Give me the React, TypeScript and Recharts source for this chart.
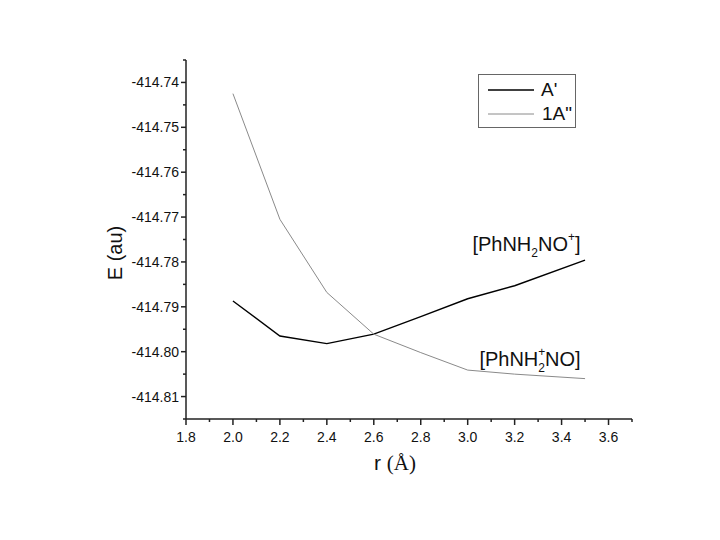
import React from 'react';
import { LineChart, Line, XAxis, YAxis, Legend, ReferenceDot } from 'recharts';

const rValues = [2.0, 2.2, 2.4, 2.6, 2.8, 3.0, 3.2, 3.5];
const aPrime = [-414.7887, -414.7965, -414.7982, -414.7961, -414.7922, -414.7882, -414.7853, -414.7796];
const oneA2 = [-414.7425, -414.7705, -414.7868, -414.7961, -414.8002, -414.8041, -414.8050, -414.8060];

const xMajor = [1.8, 2.0, 2.2, 2.4, 2.6, 2.8, 3.0, 3.2, 3.4, 3.6];
const xMinor = [1.9, 2.1, 2.3, 2.5, 2.7, 2.9, 3.1, 3.3, 3.5, 3.7];
const yMajor = [-414.81, -414.8, -414.79, -414.78, -414.77, -414.76, -414.75, -414.74];
const yMinor = [-414.815, -414.805, -414.795, -414.785, -414.775, -414.765, -414.755, -414.745, -414.735];

const seriesNames = ["A'", '1A"'];
const seriesColors = ['#000000', '#8a8a8a'];

const data = rValues.map((r, i) => ({ r, a: aPrime[i], b: oneA2[i] }));

const FONT = '"Liberation Sans", Arial, sans-serif';
const isMajor = (list: number[], v: number) => list.some((m) => Math.abs(m - v) < 1e-6);

const XTick = ({ x, y, payload }: any) => {
  const major = isMajor(xMajor, payload.value);
  return (
    <g>
      <line x1={x} x2={x} y1={y} y2={y + (major ? 6 : 3)} stroke="#222" strokeWidth={1.5} />
      {major && (
        <text x={x} y={y + 23} textAnchor="middle" fontSize={14} fontFamily={FONT} fill="#111">
          {payload.value.toFixed(1)}
        </text>
      )}
    </g>
  );
};

const YTick = ({ x, y, payload }: any) => {
  const major = isMajor(yMajor, payload.value);
  return (
    <g>
      <line x1={x} x2={x - (major ? 5 : 3)} y1={y} y2={y} stroke="#222" strokeWidth={1.5} />
      {major && (
        <text x={x - 7} y={y + 5} textAnchor="end" fontSize={14} fontFamily={FONT} fill="#111">
          {payload.value.toFixed(2)}
        </text>
      )}
    </g>
  );
};

const LegendBox = () => (
  <div
    style={{
      border: '1px solid #666',
      width: 98,
      height: 54,
      boxSizing: 'border-box',
      background: '#fff',
      fontFamily: FONT,
      fontSize: 19,
      color: '#111',
    }}
  >
    {seriesNames.map((n, i) => (
      <div key={n} style={{ display: 'flex', alignItems: 'center', height: 24, marginTop: i === 0 ? 3 : 0 }}>
        <svg width={56} height={10} style={{ marginLeft: 9 }}>
          <line x1={0} x2={46} y1={5} y2={5} stroke={seriesColors[i]} strokeWidth={i === 0 ? 1.3 : 1} />
        </svg>
        <span style={{ marginLeft: i === 0 ? -3 : -2 }}>{n}</span>
      </div>
    ))}
  </div>
);

const Species1 = ({ cx, cy }: any) => (
  <text x={cx} y={cy} fontSize={20} fontFamily={FONT} fill="#111">
    <tspan>[PhNH</tspan>
    <tspan dy={6} fontSize={12}>2</tspan>
    <tspan dy={-6}>NO</tspan>
    <tspan dy={-10} fontSize={12}>+</tspan>
    <tspan dy={10}>]</tspan>
  </text>
);

const Species2 = ({ cx, cy }: any) => (
  <text x={cx} y={cy} fontSize={20} fontFamily={FONT} fill="#111">
    <tspan>[PhNH</tspan>
    <tspan dy={-10} fontSize={12}>+</tspan>
    <tspan dx={-7} dy={16} fontSize={12}>2</tspan>
    <tspan dy={-6}>NO]</tspan>
  </text>
);

const XLabel = ({ viewBox }: any) => (
  <text x={viewBox.x + viewBox.width / 2 - 14} y={470} textAnchor="middle" fontSize={21} fill="#111">
    <tspan fontFamily={FONT}>r </tspan>
    <tspan fontFamily='"Liberation Serif", serif'>(Å)</tspan>
  </text>
);

const YLabel = () => (
  <text
    x={122}
    y={253}
    textAnchor="middle"
    fontSize={20}
    fontFamily={FONT}
    fill="#111"
    transform="rotate(-90 122 253)"
  >
    E (au)
  </text>
);

export default function App() {
  return (
    <div style={{ position: 'absolute', left: 0, top: 0, width: 720, height: 540, background: '#fff' }}>
      <LineChart width={720} height={540} data={data} margin={{ top: 60, right: 88, bottom: 91, left: 106 }}>
        <XAxis
          dataKey="r"
          type="number"
          domain={[1.8, 3.7]}
          ticks={[...xMajor, ...xMinor].sort((p, q) => p - q)}
          interval={0}
          tick={<XTick />}
          tickLine={false}
          tickSize={0}
          tickMargin={0}
          height={30}
          axisLine={{ stroke: '#222', strokeWidth: 1.5 }}
          allowDataOverflow
          label={<XLabel />}
        />
        <YAxis
          type="number"
          domain={[-414.815, -414.735]}
          ticks={[...yMajor, ...yMinor].sort((p, q) => p - q)}
          interval={0}
          tick={<YTick />}
          tickLine={false}
          tickSize={0}
          tickMargin={0}
          width={80}
          axisLine={{ stroke: '#222', strokeWidth: 1.5 }}
          allowDataOverflow
          label={<YLabel />}
        />
        <Legend
          layout="horizontal"
          verticalAlign="middle"
          align="center"
          content={<LegendBox />}
          wrapperStyle={{ top: 74, left: 478, width: 98 }}
        />
        <Line
          dataKey="a"
          name={seriesNames[0]}
          stroke={seriesColors[0]}
          strokeWidth={1.4}
          dot={false}
          isAnimationActive={false}
        />
        <Line
          dataKey="b"
          name={seriesNames[1]}
          stroke={seriesColors[1]}
          strokeWidth={1}
          dot={false}
          isAnimationActive={false}
        />
        <ReferenceDot x={3.02} y={-414.7776} r={0} shape={<Species1 />} />
        <ReferenceDot x={3.05} y={-414.8032} r={0} shape={<Species2 />} />
      </LineChart>
    </div>
  );
}
